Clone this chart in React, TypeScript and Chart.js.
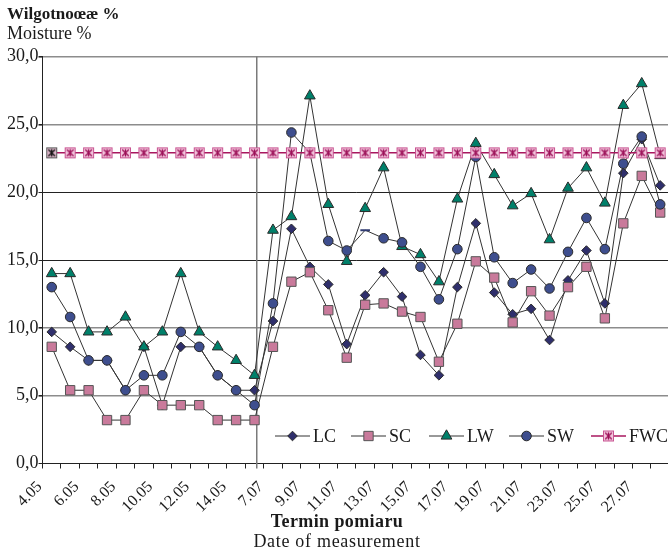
import React, { useEffect, useRef } from 'react';
import { Chart, registerables } from 'chart.js';
import { drawPoint } from 'chart.js/helpers';

Chart.register(...registerables);

const categories = [
  '4.05', '5.05', '6.05', '7.05', '8.05', '9.05', '10.05', '11.05', '12.05', '13.05', '14.05', '15.05',
  '7.07', '8.07', '9.07', '10.07', '11.07', '12.07', '13.07', '14.07', '15.07', '16.07', '17.07',
  '18.07', '19.07', '20.07', '21.07', '22.07', '23.07', '24.07', '25.07', '26.07', '27.07', '28.07',
];

const lcValues = [
  9.7, 8.6, 7.6, 7.6, 5.4, 8.6, 4.3, 8.6, 8.6, 6.5, 5.4, 5.4,
  10.5, 17.3, 14.5, 13.2, 8.8, 12.4, 14.1, 12.3, 8.0, 6.5, 13.0, 17.7, 12.6, 11.0, 11.4, 9.1,
  13.5, 15.7, 11.8, 21.4, 23.9, 20.5,
];

const scValues = [
  8.6, 5.4, 5.4, 3.2, 3.2, 5.4, 4.3, 4.3, 4.3, 3.2, 3.2, 3.2,
  8.6, 13.4, 14.1, 11.3, 7.8, 11.7, 11.8, 11.2, 10.8, 7.5, 10.3, 14.9, 13.7, 10.4, 12.7, 10.9,
  13.0, 14.5, 10.7, 17.7, 21.2, 18.5,
];

const lwValues = [
  14.0, 14.0, 9.7, 9.7, 10.8, 8.6, 9.7, 14.0, 9.7, 8.6, 7.6, 6.5,
  17.2, 18.2, 27.1, 19.1, 14.9, 18.8, 21.8, 16.0, 15.4, 13.4, 19.5, 23.6, 21.3, 19.0, 19.9, 16.5,
  20.3, 21.8, 19.2, 26.4, 28.0, 22.7,
];

const swValues = [
  13.0, 10.8, 7.6, 7.6, 5.4, 6.5, 6.5, 9.7, 8.6, 6.5, 5.4, 4.3,
  11.8, 24.4, 22.9, 16.4, 15.7, 17.2, 16.6, 16.3, 14.5, 12.1, 15.8, 22.6, 15.2, 13.3, 14.3, 12.9,
  15.6, 18.1, 15.8, 22.1, 24.1, 19.1,
];

const fwcValues = [
  22.9, 22.9, 22.9, 22.9, 22.9, 22.9, 22.9, 22.9, 22.9, 22.9, 22.9, 22.9,
  22.9, 22.9, 22.9, 22.9, 22.9, 22.9, 22.9, 22.9, 22.9, 22.9, 22.9, 22.9, 22.9, 22.9, 22.9, 22.9,
  22.9, 22.9, 22.9, 22.9, 22.9, 22.9,
];

const seriesLabels = ['LC', 'SC', 'LW', 'SW', 'FWC'];
const yTickValues = [0, 5, 10, 15, 20, 25, 30];

const FONT = "'Liberation Serif', 'Times New Roman', serif";

function makeFwcMarker(dark: boolean): HTMLCanvasElement {
  const c = document.createElement('canvas');
  c.width = 13;
  c.height = 13;
  const ctx = c.getContext('2d') as CanvasRenderingContext2D;
  ctx.fillStyle = dark ? '#d9b3c6' : '#f3c4dc';
  ctx.fillRect(1, 1, 11, 11);
  ctx.strokeStyle = dark ? '#5a5a5a' : '#c85592';
  ctx.lineWidth = 1;
  ctx.strokeRect(1.5, 1.5, 10, 10);
  ctx.strokeStyle = dark ? '#111111' : '#9c1058';
  ctx.lineWidth = 1.3;
  ctx.beginPath();
  ctx.moveTo(3.2, 3.2);
  ctx.lineTo(9.8, 9.8);
  ctx.moveTo(9.8, 3.2);
  ctx.lineTo(3.2, 9.8);
  ctx.moveTo(6.5, 2.8);
  ctx.lineTo(6.5, 10.2);
  ctx.stroke();
  return c;
}

export default function App() {
  const canvasRef = useRef<HTMLCanvasElement | null>(null);

  useEffect(() => {
    const canvas = canvasRef.current;
    if (!canvas) return;
    const fwcNormal = makeFwcMarker(false);
    const fwcDark = makeFwcMarker(true);

    const line = { borderColor: '#333333', borderWidth: 1, pointBorderColor: '#2a2a2a', pointBorderWidth: 1, fill: false, tension: 0 };

    const datasets: any[] = [
      { ...line, label: seriesLabels[0], data: lcValues, pointStyle: 'rectRot', pointRadius: 4.8, pointBackgroundColor: '#2f2f6c', order: 4 },
      { ...line, label: seriesLabels[1], data: scValues, pointStyle: 'rect', pointRadius: 6.6, pointBackgroundColor: '#c97a9b', pointBorderColor: '#555555', order: 3 },
      { ...line, label: seriesLabels[2], data: lwValues, pointStyle: 'triangle', pointRadius: 6.2, pointBackgroundColor: '#00806a', order: 2 },
      {
        ...line, label: seriesLabels[3], data: swValues,
        pointStyle: (c: any) => (c.dataIndex === 17 ? 'line' : 'circle'),
        pointBorderWidth: (c: any) => (c.dataIndex === 17 ? 2 : 1),
        pointBorderColor: (c: any) => (c.dataIndex === 17 ? '#2f3a70' : '#2a2a2a'),
        pointRadius: 4.8, pointBackgroundColor: '#3e4e8e', order: 1,
      },
      {
        label: seriesLabels[4], data: fwcValues, borderColor: '#a8175f', borderWidth: 1.5, fill: false,
        pointStyle: (c: any) => (c.dataIndex === 0 ? fwcDark : fwcNormal), pointRadius: 6, order: 0,
      },
    ];

    const legendStarts = [275, 351, 429, 509, 591];

    const overlay = {
      id: 'overlay',
      beforeDatasetsDraw(chart: any) {
        const ctx = chart.ctx;
        const xs = chart.scales.x;
        const step = xs.getPixelForValue(1) - xs.getPixelForValue(0);
        const x = xs.getPixelForValue(11) + 0.12 * step;
        ctx.save();
        ctx.strokeStyle = '#7a7a7a';
        ctx.lineWidth = 1.5;
        ctx.beginPath();
        ctx.moveTo(x, chart.chartArea.top);
        ctx.lineTo(x, chart.chartArea.bottom + 5);
        ctx.stroke();
        ctx.restore();
      },
      afterDraw(chart: any) {
        const ctx = chart.ctx;
        ctx.save();
        ctx.fillStyle = '#1a1a1a';
        ctx.textBaseline = 'alphabetic';
        ctx.textAlign = 'left';
        ctx.font = `bold 17px ${FONT}`;
        ctx.fillText('Wilgotnoœæ %', 7, 19);
        ctx.font = `18px ${FONT}`;
        ctx.fillText('Moisture %', 7, 39);
        ctx.textAlign = 'center';
        ctx.font = `bold 18px ${FONT}`;
        (ctx as any).letterSpacing = '0.4px';
        ctx.fillText('Termin pomiaru', 337, 527);
        ctx.font = `18px ${FONT}`;
        (ctx as any).letterSpacing = '0.7px';
        ctx.fillText('Date of measurement', 337, 547);
        (ctx as any).letterSpacing = '0px';

        // legend
        const ly = 436;
        chart.data.datasets.forEach((ds: any, i: number) => {
          const x0 = legendStarts[i];
          ctx.strokeStyle = ds.borderColor;
          ctx.lineWidth = ds.borderWidth;
          ctx.beginPath();
          ctx.moveTo(x0, ly);
          ctx.lineTo(x0 + 35, ly);
          ctx.stroke();
          const style = typeof ds.pointStyle === 'function' ? ds.pointStyle({ dataIndex: 1 }) : ds.pointStyle;
          const bc = typeof ds.pointBorderColor === 'function' ? ds.pointBorderColor({ dataIndex: 1 }) : ds.pointBorderColor;
          ctx.fillStyle = ds.pointBackgroundColor || '#fff';
          ctx.strokeStyle = bc || '#2a2a2a';
          ctx.lineWidth = 1;
          drawPoint(ctx, { pointStyle: style, rotation: 0, radius: ds.pointRadius, borderWidth: 1 }, x0 + 17.5, ly);
          ctx.fillStyle = '#1a1a1a';
          ctx.textAlign = 'left';
          ctx.textBaseline = 'middle';
          ctx.font = `18px ${FONT}`;
          ctx.fillText(ds.label, x0 + 38, ly + 1);
        });
        ctx.restore();
      },
    };

    const chart = new Chart(canvas, {
      type: 'line',
      data: { labels: categories, datasets },
      options: {
        animation: false,
        responsive: false,
        maintainAspectRatio: false,
        devicePixelRatio: 1,
        events: [],
        layout: { padding: { top: 56.5, left: 0, right: 0, bottom: 0 } },
        plugins: { legend: { display: false }, tooltip: { enabled: false }, title: { display: false } },
        scales: {
          x: {
            type: 'category',
            offset: true,
            grid: { display: true, drawOnChartArea: false, drawTicks: true, tickLength: 5, offset: true, color: '#222222', tickColor: '#222222' },
            border: { display: true, color: '#222222', width: 1 },
            ticks: {
              autoSkip: false,
              maxRotation: 45,
              minRotation: 45,
              padding: 9,
              labelOffset: -12,
              color: '#1a1a1a',
              font: { family: FONT, size: 16 },
              callback: (_v: any, i: number) => (i % 2 === 0 ? categories[i] : ''),
            },
            afterFit: (s: any) => {
              s.height = 88.5;
              s.paddingLeft = 0;
              s.paddingRight = 0;
            },
          },
          y: {
            min: 0,
            max: 30,
            afterBuildTicks: (s: any) => {
              s.ticks = yTickValues.map((v) => ({ value: v }));
            },
            grid: {
              color: (c: any) => {
                const v = c.tick ? c.tick.value : -1;
                return v === 15 || v === 20 || v === 0 ? '#222222' : '#8c8c8c';
              },
              lineWidth: (c: any) => {
                const v = c.tick ? c.tick.value : -1;
                return v === 15 || v === 20 || v === 0 ? 1 : 1.6;
              },
              tickColor: '#222222',
              tickLength: 4,
            },
            border: { display: true, color: '#222222', width: 1 },
            ticks: {
              padding: 0,
              color: '#1a1a1a',
              font: { family: FONT, size: 18 },
              callback: (v: any) => Number(v).toFixed(1).replace('.', ','),
            },
            afterFit: (s: any) => {
              s.width = 42.5;
              s.paddingTop = 0;
              s.paddingBottom = 0;
            },
          },
        },
      },
      plugins: [overlay],
    } as any);

    return () => chart.destroy();
  }, []);

  return (
    <div style={{ position: 'absolute', left: 0, top: 0, width: 668, height: 552, overflow: 'hidden', background: '#ffffff' }}>
      <canvas ref={canvasRef} width={677} height={552} style={{ display: 'block', width: 677, height: 552 }} />
    </div>
  );
}
